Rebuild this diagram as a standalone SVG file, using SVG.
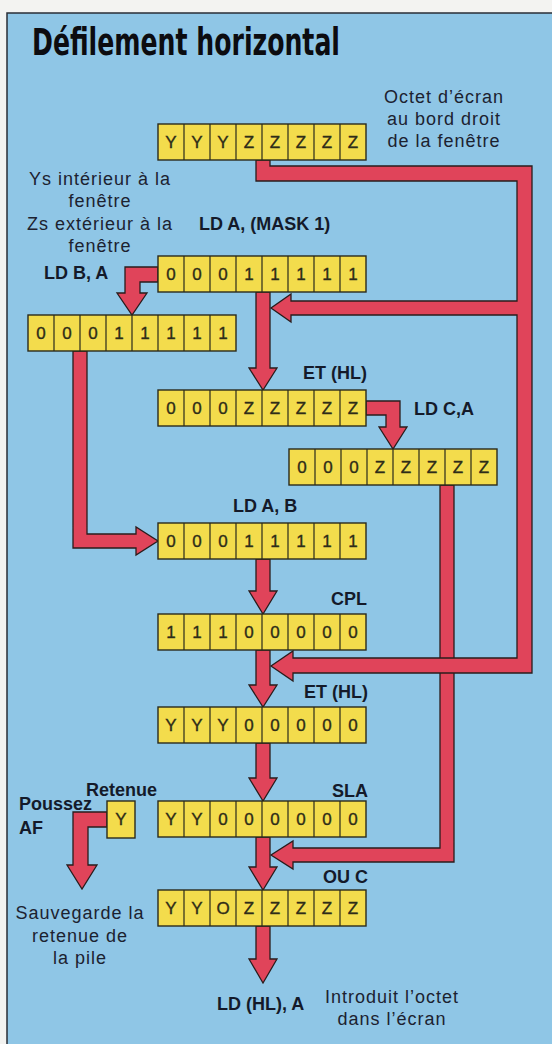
<svg xmlns="http://www.w3.org/2000/svg" width="552" height="1044" viewBox="0 0 552 1044">
<style>
.reg{fill:#f3dc4c;stroke:#2a2a1c;stroke-width:1.4}
.div{fill:none;stroke:#2a2a1c;stroke-width:1.2}
.c{font-family:"Liberation Sans",Arial,sans-serif;font-size:17px;fill:#2e2c18;stroke:#2e2c18;stroke-width:0.35;text-anchor:middle}
.arr{fill:#e0445a;stroke:#2a1c1c;stroke-width:1.3;stroke-linejoin:miter}
.lb{font-family:"Liberation Sans",Arial,sans-serif;font-size:18px;font-weight:bold;fill:#141a2a}
.tx{font-family:"Liberation Sans",Arial,sans-serif;font-size:18px;letter-spacing:1px;fill:#1c2230;text-anchor:middle}
.title{font-family:"DejaVu Sans Condensed","Liberation Sans",sans-serif;font-size:37px;font-weight:bold;fill:#0c0c10}
</style>
<rect x="0" y="0" width="552" height="1044" fill="#f3f3f1"/>
<rect x="7" y="13" width="560" height="1050" fill="#8fc6e6" stroke="#2a2e36" stroke-width="1.5"/>
<text class="title" x="32" y="55" textLength="308" lengthAdjust="spacingAndGlyphs">Défilement horizontal</text>

<g id="connectors">
<polygon id="c6" class="arr" points="440,485 440,848 293,848 293,841 271,855 293,869 293,862 454,862 454,485"/>
<polygon id="c1" class="arr" points="256,160 256,181 517,181 517,301 291,301 291,294 271,308 291,322 291,315 517,315 517,658 293,658 293,651 271,666 293,681 293,673 532,673 532,166 270,166 270,160"/>
<polygon id="c2" class="arr" points="256,292 256,368 249,368 263,390 277,368 270,368 270,292"/>
<polygon id="c3" class="arr" points="158,267 125,267 125,293 117,293 132,315 147,293 140,293 140,282 158,282"/>
<polygon id="c4" class="arr" points="73,351 73,548 136,548 136,555 158,541 136,527 136,534 87,534 87,351"/>
<polygon id="c5" class="arr" points="366,401 400,401 400,427 407,427 393,449 379,427 386,427 386,415 366,415"/>
<polygon id="c7" class="arr" points="256,559 256,591 249,591 263,614 277,591 270,591 270,559"/>
<polygon id="c8" class="arr" points="256,650 256,685 249,685 263,707 277,685 270,685 270,650"/>
<polygon id="c9" class="arr" points="256,743 256,778 249,778 263,801 277,778 270,778 270,743"/>
<polygon id="c10" class="arr" points="256,837 256,867 249,867 263,890 277,867 270,867 270,837"/>
<polygon id="c11" class="arr" points="256,926 256,959 249,959 263,983 277,959 270,959 270,926"/>
<polygon id="c12" class="arr" points="107,812 73,812 73,865 67,865 82,889 97,865 88,865 88,827 107,827"/>
</g>

<g id="r1">
<rect class="reg" x="158" y="124" width="208" height="36"/>
<path class="div" d="M184 124v36M210 124v36M236 124v36M262 124v36M288 124v36M314 124v36M340 124v36"/>
<text class="c" x="171 197 223 249 275 301 327 353" y="148">YYYZZZZZ</text>
</g>
<g id="r2">
<rect class="reg" x="158" y="256" width="208" height="36"/>
<path class="div" d="M184 256v36M210 256v36M236 256v36M262 256v36M288 256v36M314 256v36M340 256v36"/>
<text class="c" x="171 197 223 249 275 301 327 353" y="280">00011111</text>
</g>
<g id="r3">
<rect class="reg" x="28" y="315" width="208" height="36"/>
<path class="div" d="M54 315v36M80 315v36M106 315v36M132 315v36M158 315v36M184 315v36M210 315v36"/>
<text class="c" x="41 67 93 119 145 171 197 223" y="339">00011111</text>
</g>
<g id="r4">
<rect class="reg" x="158" y="390" width="208" height="36"/>
<path class="div" d="M184 390v36M210 390v36M236 390v36M262 390v36M288 390v36M314 390v36M340 390v36"/>
<text class="c" x="171 197 223 249 275 301 327 353" y="414">000ZZZZZ</text>
</g>
<g id="r5">
<rect class="reg" x="289" y="449" width="208" height="36"/>
<path class="div" d="M315 449v36M341 449v36M367 449v36M393 449v36M419 449v36M445 449v36M471 449v36"/>
<text class="c" x="302 328 354 380 406 432 458 484" y="473">000ZZZZZ</text>
</g>
<g id="r6">
<rect class="reg" x="158" y="523" width="208" height="36"/>
<path class="div" d="M184 523v36M210 523v36M236 523v36M262 523v36M288 523v36M314 523v36M340 523v36"/>
<text class="c" x="171 197 223 249 275 301 327 353" y="547">00011111</text>
</g>
<g id="r7">
<rect class="reg" x="158" y="614" width="208" height="36"/>
<path class="div" d="M184 614v36M210 614v36M236 614v36M262 614v36M288 614v36M314 614v36M340 614v36"/>
<text class="c" x="171 197 223 249 275 301 327 353" y="638">11100000</text>
</g>
<g id="r8">
<rect class="reg" x="158" y="707" width="208" height="36"/>
<path class="div" d="M184 707v36M210 707v36M236 707v36M262 707v36M288 707v36M314 707v36M340 707v36"/>
<text class="c" x="171 197 223 249 275 301 327 353" y="731">YYY00000</text>
</g>
<g id="r9">
<rect class="reg" x="158" y="801" width="208" height="36"/>
<path class="div" d="M184 801v36M210 801v36M236 801v36M262 801v36M288 801v36M314 801v36M340 801v36"/>
<text class="c" x="171 197 223 249 275 301 327 353" y="825">YY000000</text>
</g>
<g id="carry">
<rect class="reg" x="107" y="801" width="28" height="37"/>
<text class="c" x="121" y="825">Y</text>
</g>
<g id="r10">
<rect class="reg" x="158" y="890" width="208" height="36"/>
<path class="div" d="M184 890v36M210 890v36M236 890v36M262 890v36M288 890v36M314 890v36M340 890v36"/>
<text class="c" x="171 197 223 249 275 301 327 353" y="914">YYOZZZZZ</text>
</g>

<g id="labels">
<text class="tx" x="444" y="103">Octet d’écran</text>
<text class="tx" x="444" y="125">au bord droit</text>
<text class="tx" x="444" y="147">de la fenêtre</text>
<text class="tx" x="100" y="185">Ys intérieur à la</text>
<text class="tx" x="100" y="207">fenêtre</text>
<text class="tx" x="100" y="230">Zs extérieur à la</text>
<text class="tx" x="100" y="252">fenêtre</text>
<text class="lb" x="199" y="230">LD A, (MASK 1)</text>
<text class="lb" x="44" y="279">LD B, A</text>
<text class="lb" x="367" y="379" text-anchor="end">ET (HL)</text>
<text class="lb" x="414" y="415">LD C,A</text>
<text class="lb" x="233" y="512">LD A, B</text>
<text class="lb" x="367" y="605" text-anchor="end">CPL</text>
<text class="lb" x="368" y="698" text-anchor="end">ET (HL)</text>
<text class="lb" x="86" y="796">Retenue</text>
<text class="lb" x="19" y="810">Poussez</text>
<text class="lb" x="19" y="834">AF</text>
<text class="lb" x="368" y="797" text-anchor="end">SLA</text>
<text class="lb" x="368" y="883" text-anchor="end">OU C</text>
<text class="tx" x="80" y="919">Sauvegarde la</text>
<text class="tx" x="80" y="942">retenue de</text>
<text class="tx" x="80" y="964">la pile</text>
<text class="lb" x="217" y="1010">LD (HL), A</text>
<text class="tx" x="392" y="1003">Introduit l’octet</text>
<text class="tx" x="392" y="1025">dans l’écran</text>
</g>
</svg>
